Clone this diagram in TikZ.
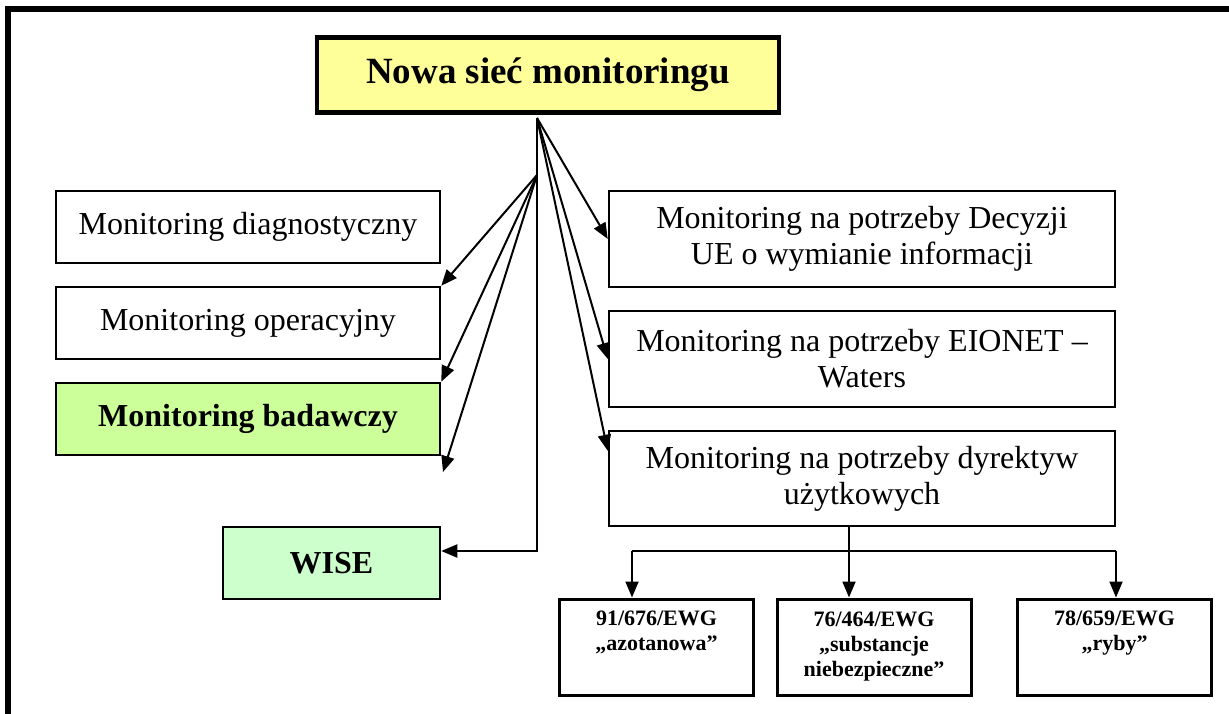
\documentclass[tikz,border=0pt]{standalone}
\usepackage{fontspec}
\setmainfont{Liberation Serif}
\usetikzlibrary{arrows.meta}
\definecolor{titleyellow}{HTML}{FFFF99}
\definecolor{resgreen}{HTML}{CCFF99}
\definecolor{wisegreen}{HTML}{CCFFCC}

\begin{document}
\begin{tikzpicture}[x=1pt, y=-1pt,
    box/.style={draw, line width=2.5pt, inner sep=0pt, align=center,
      font=\fontsize{32}{36}\selectfont},
    dirbox/.style={draw, line width=3pt, inner sep=0pt, align=center,
      minimum width=194pt, minimum height=96pt,
      font=\fontsize{22}{25}\selectfont\bfseries},
    arr/.style={line width=2pt, -{Triangle[length=16pt,width=13pt]}},
    link/.style={line width=2pt}]
  \useasboundingbox (0,0) rectangle (1229,714);
  \draw[line width=6pt] (8,714) -- (8,9.5) -- (1229,9.5);

  \node[box, fill=titleyellow, line width=4.5pt, minimum width=462pt, minimum height=75pt,
    font=\fontsize{37}{42}\selectfont\bfseries] (title) at (548,75) {Nowa sieć monitoringu};

  % lewa kolumna
  \node[box, minimum width=384pt, minimum height=72pt] (diag) at (248,227) {Monitoring diagnostyczny};
  \node[box, minimum width=384pt, minimum height=72pt] (oper) at (248,323) {Monitoring operacyjny};
  \node[box, fill=resgreen, minimum width=384pt, minimum height=72pt,
    font=\fontsize{32}{36}\selectfont\bfseries] (bad) at (248,419) {Monitoring badawczy};
  \node[box, fill=wisegreen, minimum width=217pt, minimum height=72pt,
    font=\fontsize{32}{36}\selectfont\bfseries] (wise) at (331.5,563) {WISE};

  % prawa kolumna
  \node[box, minimum width=506pt, minimum height=96pt] (dec) at (862,239)
    {Monitoring na potrzeby Decyzji\\UE o wymianie informacji};
  \node[box, minimum width=506pt, minimum height=96pt] (eio) at (862,359)
    {Monitoring na potrzeby EIONET –\\Waters};
  \node[box, minimum width=506pt, minimum height=95pt] (dyr) at (862,478.5)
    {Monitoring na potrzeby dyrektyw\\użytkowych};

  % dyrektywy
  \node[dirbox] (azot) at (656.5,647) {91/676/EWG\\„azotanowa”\\\strut};
  \node[dirbox] (subst) at (874,647) {76/464/EWG\\„substancje\\niebezpieczne”};
  \node[dirbox] (ryby) at (1114.5,647) {78/659/EWG\\„ryby”\\\strut};

  \coordinate (fan) at (537,118);
  \coordinate (fanL) at (537,175);
  \coordinate (tipL) at (443,472);
  \coordinate (split) at (849,551);
  \coordinate (j1) at (632,551);
  \coordinate (j3) at (1116,551);

  \draw[arr] (fanL) -- (oper.north east);
  \draw[arr] (fanL) -- (bad.north east);
  \draw[arr] (fanL) -- (tipL);
  \draw[arr] (fan) -- (dec.west);
  \draw[arr] (fan) -- (eio.west);
  \draw[arr] (fan) -- ([yshift=-21pt]dyr.north west);
  \draw[arr] (fan) |- ([yshift=12pt]wise.east);

  \draw[link] (dyr.south -| split) -- (split);
  \draw[link] (j1) -- (j3);
  \draw[arr] (j1) -- (j1 |- azot.north);
  \draw[arr] (split) -- (split |- subst.north);
  \draw[arr] (j3) -- (j3 |- ryby.north);
\end{tikzpicture}
\end{document}
